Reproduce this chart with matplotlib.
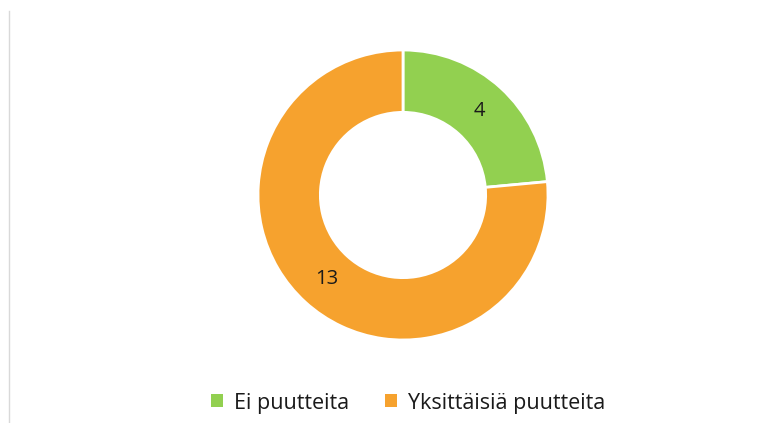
import matplotlib.pyplot as plt
from matplotlib.patches import Patch
from matplotlib.lines import Line2D

categories = ["Ei puutteita", "Yksittäisiä puutteita"]
values = [4, 13]
colors = ["#92D050", "#F6A22E"]

plt.rcParams["font.family"] = ["Open Sans", "DejaVu Sans"]

W, H = 784, 423
fig = plt.figure(figsize=(W / 100, H / 100), dpi=100)
fig.patch.set_facecolor("white")

# donut centre / radius in pixels
cx, cy, r = 403, 195, 145
ax = fig.add_axes([(cx - r) / W, (H - cy - r) / H, 2 * r / W, 2 * r / H])
wedges, texts = ax.pie(
    values,
    colors=colors,
    startangle=90,
    counterclock=False,
    radius=1.0,
    labels=[str(v) for v in values],
    labeldistance=0.78,
    wedgeprops=dict(width=0.43, edgecolor="white", linewidth=2),
    textprops=dict(fontsize=14.5, color="#1a1a1a", ha="center", va="center"),
)
ax.set_xlim(-1, 1)
ax.set_ylim(-1, 1)
ax.set_aspect("equal")
ax.axis("off")

handles = [Patch(facecolor=c, edgecolor="none") for c in colors]
fig.legend(
    handles, categories,
    loc="center", bbox_to_anchor=(408 / W, 1 - 403 / H),
    ncol=2, frameon=False, fontsize=15.5,
    handlelength=0.55, handleheight=0.55, handletextpad=0.5, columnspacing=1.7,
    labelcolor="#1a1a1a",
)

# faint left frame line
fig.add_artist(Line2D([8.5 / W, 8.5 / W], [0, 1 - 11 / H], transform=fig.transFigure,
                      color="#d9d9d9", linewidth=1))

fig.savefig("out.png", dpi=100)
